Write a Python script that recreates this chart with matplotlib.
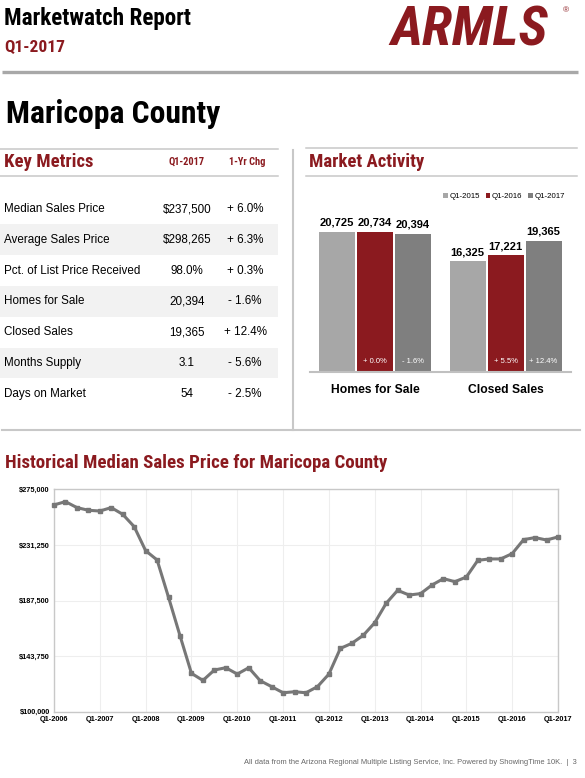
import numpy as np
import matplotlib.pyplot as plt
from matplotlib import font_manager as fm
from matplotlib.patches import Rectangle

# ---- data ----
metric_names = ["Median Sales Price", "Average Sales Price", "Pct. of List Price Received",
                "Homes for Sale", "Closed Sales", "Months Supply", "Days on Market"]
metric_q1_2017 = ["$237,500", "$298,265", "98.0%", "20,394", "19,365", "3.1", "54"]
metric_chg = ["+ 6.0%", "+ 6.3%", "+ 0.3%", "- 1.6%", "+ 12.4%", "- 5.6%", "- 2.5%"]

activity_groups = ["Homes for Sale", "Closed Sales"]
activity_years = ["Q1-2015", "Q1-2016", "Q1-2017"]
homes_for_sale = [20725, 20734, 20394]
closed_sales = [16325, 17221, 19365]
homes_chg = ["", "+ 0.0%", "- 1.6%"]
closed_chg = ["", "+ 5.5%", "+ 12.4%"]

quarters = [f"Q{q}-{y}" for y in range(2006, 2018) for q in range(1, 5)][:45]
median_price = [262700, 265300, 260600, 258500,
                257900, 260600, 255300, 245600,
                226700, 219400, 190000, 159800,
                130200, 124600, 132800, 134600,
                129600, 134600, 124400, 119700,
                114900, 115700, 114900, 119700,
                129600, 149800, 153800, 160100,
                170000, 185300, 195500, 191800,
                192900, 199700, 204700, 202300,
                206000, 219100, 220200, 220200,
                224400, 235400, 237000, 235100,
                237500]
price_ticks = [100000, 143750, 187500, 231250, 275000]

# ---- styles ----
RED = "#8b1a1f"
BAR_COLORS = ["#a7a7a7", "#8b1a1f", "#7f7f7f"]
LINE_GREY = "#c8c8c8"
ARIAL = ["Liberation Sans", "DejaVu Sans"]

# look for a condensed bold face for the headings
COND, COND_STRETCH = ["Liberation Sans", "DejaVu Sans"], "normal"
installed = fm.fontManager.ttflist
for fam in ["Liberation Sans Narrow", "Arial Narrow", "Roboto Condensed",
            "Open Sans Condensed", "Noto Sans", "DejaVu Sans", "Roboto"]:
    hits = [f for f in installed if f.name == fam and
            ("Narrow" in fam or "Condensed" in fam or "condensed" in str(f.stretch))]
    if hits:
        COND = [fam, "DejaVu Sans"]
        COND_STRETCH = "normal" if ("Narrow" in fam or "Condensed" in fam) else "condensed"
        break

W, H = 585, 778
fig = plt.figure(figsize=(W / 100, H / 100), dpi=100)
renderer = fig.canvas.get_renderer()


def px_rect(x0, y0, x1, y1):
    return [x0 / W, 1 - y1 / H, (x1 - x0) / W, (y1 - y0) / H]


def fit(t, target_w):
    w = t.get_window_extent(renderer).width
    if w > target_w:
        t.set_fontsize(t.get_fontsize() * target_w / w)
    return t


# background layout axes in pixel coordinates
bg = fig.add_axes([0, 0, 1, 1])
bg.set_xlim(0, W)
bg.set_ylim(H, 0)
bg.axis("off")


def head(x, y, s, size, w, color="black", **kw):
    t = bg.text(x, y, s, family=COND, fontstretch=COND_STRETCH, weight="bold",
                fontsize=size, color=color, **kw)
    return fit(t, w)


# header
head(4, 25, "Marketwatch Report", 17.5, 187, va="baseline")
head(4, 52, "Q1-2017", 12.5, 62, color=RED, va="baseline")
head(390, 45, "ARMLS", 40, 166, color=RED, style="italic", va="baseline")
bg.text(563, 11, "\u00ae", family=ARIAL, fontsize=6, color=RED, va="center")
bg.plot([2, 578], [71.7, 71.7], color="#a8a8a8", lw=2.4, solid_capstyle="butt")
head(6, 123, "Maricopa County", 25, 214, va="baseline")

# key metrics table
for y in (149, 176):
    bg.plot([0, 278], [y, y], color=LINE_GREY, lw=1.1)
head(4, 162, "Key Metrics", 13.5, 90, color=RED, va="center")
head(187, 162, "Q1-2017", 7.5, 39, color=RED, ha="center", va="center")
head(247, 162, "1-Yr Chg", 7.5, 41, color=RED, ha="center", va="center")
row_y = 209
row_step = 30.8
for i, (name, val, chg) in enumerate(zip(metric_names, metric_q1_2017, metric_chg)):
    y = row_y + i * row_step
    if i % 2 == 1:
        bg.add_patch(Rectangle((0, y - row_step / 2), 278, row_step, color="#f2f2f2", lw=0))
    bg.text(4, y, name, family=ARIAL, fontsize=8.4, va="center")
    bg.text(187, y, val, family=ARIAL, fontsize=8.4, va="center", ha="center")
    bg.text(245, y, chg, family=ARIAL, fontsize=8.4, va="center", ha="center")

# dividers
bg.plot([293, 293], [150, 430], color=LINE_GREY, lw=1.5)
bg.plot([2, 580], [430, 430], color=LINE_GREY, lw=1.5)

# market activity header
for y in (148, 176):
    bg.plot([306, 577], [y, y], color=LINE_GREY, lw=1.1)
head(309, 162, "Market Activity", 13.5, 116, color=RED, va="center")

# market activity bars
ax = fig.add_axes(px_rect(309.6, 185, 571, 371.7))
x = np.arange(len(activity_groups))
w = 0.29
series = np.array([homes_for_sale, closed_sales]).T
chgs = np.array([homes_chg, closed_chg]).T
for j, yr in enumerate(activity_years):
    xs = x + (j - 1) * w
    bars = ax.bar(xs, series[j], width=0.275, color=BAR_COLORS[j], label=yr)
    for b, v, c in zip(bars, series[j], chgs[j]):
        ax.annotate(f"{v:,}", (b.get_x() + b.get_width() / 2, v), xytext=(0, 3),
                    textcoords="offset points", ha="center", va="bottom",
                    family=ARIAL, weight="bold", fontsize=8)
        if c:
            ax.text(b.get_x() + b.get_width() / 2, 0.052, c, transform=ax.get_xaxis_transform(),
                    ha="center", va="center", color="white", family=ARIAL, fontsize=5.5)
ax.set_xlim(-0.5, 1.5)
ax.set_ylim(0, 27640)
for s in ("top", "left", "right"):
    ax.spines[s].set_visible(False)
ax.spines["bottom"].set_color("#c0c0c0")
ax.spines["bottom"].set_linewidth(1.5)
ax.set_yticks([])
ax.set_xticks(x)
ax.set_xticklabels(activity_groups, family=ARIAL, weight="bold", fontsize=8.7)
ax.tick_params(axis="x", length=0, pad=9)
ax.patch.set_alpha(0)
ax.legend(loc="upper right", ncol=3, frameon=False, handlelength=0.6,
          handleheight=0.6, handletextpad=0.2, columnspacing=0.7,
          bbox_to_anchor=(572 / W, 1 - 186 / H), bbox_transform=fig.transFigure,
          prop={"family": ARIAL, "size": 5.7})

# historical median price
head(5, 468, "Historical Median Sales Price for Maricopa County", 15, 381, color=RED,
     va="baseline")
lx = fig.add_axes(px_rect(54, 489.3, 558, 711.7))
lx.plot(np.arange(len(median_price)), median_price, color="#777777", lw=2.2,
        marker="s", markersize=2.8, zorder=3, clip_on=False)
lx.set_xlim(0, len(median_price) - 1)
lx.set_ylim(price_ticks[0], price_ticks[-1])
lx.set_yticks(price_ticks)
lx.set_yticklabels([f"${v:,}" for v in price_ticks], family=ARIAL, weight="bold", fontsize=5.3)
xt = np.arange(0, len(median_price), 4)
lx.set_xticks(xt)
lx.set_xticklabels([quarters[i] for i in xt], family=ARIAL, weight="bold", fontsize=5.3)
lx.tick_params(length=0, pad=3)
lx.grid(True, color="#eeeeee", lw=0.8)
lx.set_axisbelow(True)
for s in lx.spines.values():
    s.set_color("#c8c8c8")
    s.set_linewidth(1.0)

# footer
bg.text(577, 763, "All data from the Arizona Regional Multiple Listing Service, Inc. Powered by ShowingTime 10K.  |  3",
        family=ARIAL, fontsize=5.4, color="#666666", ha="right", va="center")

fig.savefig("out.png", dpi=100)
